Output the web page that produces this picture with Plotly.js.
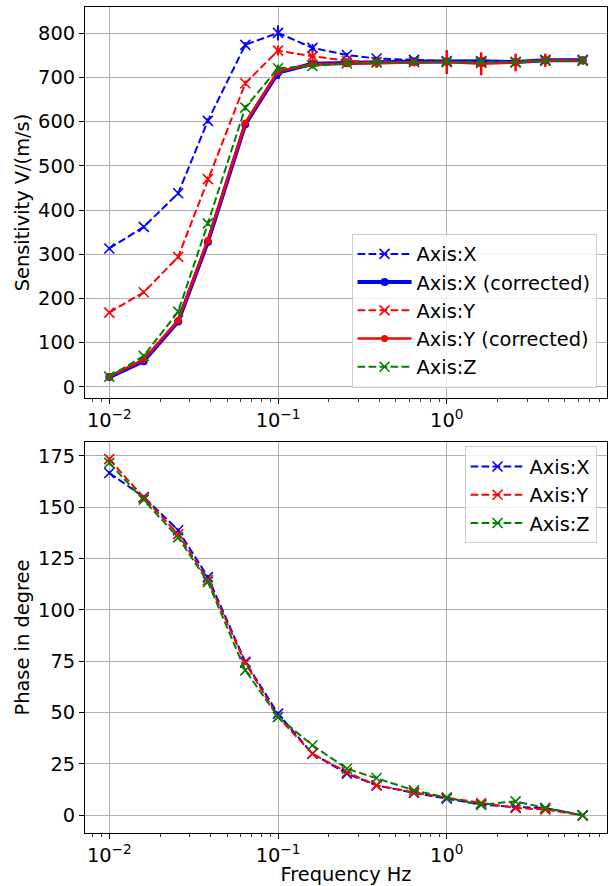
<!DOCTYPE html>
<html>
<head>
<meta charset="utf-8">
<script src="https://cdn.plot.ly/plotly-3.0.1.min.js"></script>
<style>html,body{margin:0;padding:0;background:#fff}</style>
</head>
<body>
<div id="chart" style="width:612px;height:886px"></div>
<script>
// Frequencies (Hz)
const freq = [0.01, 0.016, 0.0256, 0.0384, 0.064, 0.1, 0.16, 0.256, 0.384, 0.64, 1.0, 1.6, 2.56, 3.84, 6.4];

// Sensitivity V/(m/s)
const sensX      = [313, 362, 438, 602, 774, 801, 767, 751, 743, 740, 737, 737, 735, 740, 740];
const sensXErr   = [3, 4, 5, 6, 6, 17, 9, 5, 4, 3, 4, 4, 3, 3, 3];
const sensXc     = [22, 58, 148, 328, 594, 711, 731, 733, 734, 736, 736, 737, 735, 739, 739];
const sensXcErr  = [3, 4, 5, 6, 6, 14, 6, 4, 3, 3, 4, 4, 3, 3, 3];
const sensY      = [168, 214, 294, 470, 687, 761, 748, 738, 735, 735, 735, 733, 734, 738, 738];
const sensYErr   = [3, 4, 5, 6, 6, 11, 13, 6, 5, 4, 8, 8, 6, 5, 4];
const sensYc     = [23, 62, 150, 331, 597, 714, 730, 731, 733, 734, 735, 731, 734, 739, 738];
const sensYcErr  = [3, 4, 5, 6, 6, 8, 8, 7, 11, 9, 27, 26, 20, 15, 9];
const sensZ      = [23, 70, 170, 370, 632, 721, 726, 732, 734, 735, 735, 735, 735, 738, 738];
const sensZErr   = [3, 4, 5, 6, 6, 8, 6, 4, 3, 3, 4, 4, 3, 3, 3];

// Phase in degree
const phaseX = [166.7, 155.0, 138.8, 116.0, 74.7, 49.5, 30.0, 20.3, 14.6, 10.9, 8.1, 5.2, 4.0, 3.6, 0.0];
const phaseY = [173.4, 154.7, 136.9, 114.5, 74.2, 47.9, 30.0, 21.0, 14.6, 11.2, 8.6, 6.0, 3.6, 2.8, 0.0];
const phaseZ = [171.6, 153.7, 135.3, 113.6, 70.6, 47.9, 34.1, 22.7, 18.2, 12.2, 8.6, 5.2, 6.8, 3.6, 0.0];
const phaseErr = [0.8, 0.8, 0.8, 0.8, 0.8, 0.8, 0.6, 0.6, 0.6, 0.6, 0.6, 0.6, 0.6, 0.6, 0.6];

// Tick labels
const xTickVals = [0.01, 0.1, 1];
const xTickText = ['10<sup>\u22122</sup>', '10<sup>\u22121</sup>', '10<sup>0</sup>'];
const sensTicks = [0, 100, 200, 300, 400, 500, 600, 700, 800];
const phaseTicks = [0, 25, 50, 75, 100, 125, 150, 175];

const FONT = 'DejaVu Sans, Liberation Sans, sans-serif';
const FS = 19.4;
const BLUE = '#0000ff', RED = '#ff0000', GREEN = '#008000';

const minorVals = [];
for (let e = -3; e <= 0; e++) for (let d = 2; d <= 9; d++) minorVals.push(d * Math.pow(10, e));

function dashed(name, x, y, err, color, xa, ya, legend, showleg) {
  return {
    type: 'scatter', mode: 'lines+markers', name: name, x: x, y: y,
    xaxis: xa, yaxis: ya, legend: legend, showlegend: showleg,
    line: {color: color, width: 2, dash: '7.7px,3.3px'},
    marker: {symbol: 'x-thin-open', size: 10, color: color, line: {color: color, width: 1.6}},
    error_y: {type: 'data', array: err, visible: true, color: color, thickness: 2, width: 0}
  };
}
function solid(name, x, y, err, color, lw, ms, xa, ya, legend) {
  return {
    type: 'scatter', mode: 'lines+markers', name: name, x: x, y: y,
    xaxis: xa, yaxis: ya, legend: legend,
    line: {color: color, width: lw},
    marker: {symbol: 'circle', size: ms, color: color},
    error_y: {type: 'data', array: err, visible: true, color: color, thickness: lw, width: 0}
  };
}

const traces = [
  dashed('Axis:X', freq, sensX, sensXErr, BLUE, 'x', 'y', 'legend', true),
  solid('Axis:X (corrected)', freq, sensXc, sensXcErr, BLUE, 4, 8, 'x', 'y', 'legend'),
  dashed('Axis:Y', freq, sensY, sensYErr, RED, 'x', 'y', 'legend', true),
  solid('Axis:Y (corrected)', freq, sensYc, sensYcErr, RED, 2.5, 7, 'x', 'y', 'legend'),
  dashed('Axis:Z', freq, sensZ, sensZErr, GREEN, 'x', 'y', 'legend', true),
  dashed('Axis:X', freq, phaseX, phaseErr, BLUE, 'x2', 'y2', 'legend2', true),
  dashed('Axis:Y', freq, phaseY, phaseErr, RED, 'x2', 'y2', 'legend2', true),
  dashed('Axis:Z', freq, phaseZ, phaseErr, GREEN, 'x2', 'y2', 'legend2', true)
];

function xAxis(anchor, withTitle) {
  const ax = {
    type: 'log', range: [-2.144, 0.95], anchor: anchor,
    showline: true, mirror: true, linecolor: '#000', linewidth: 1,
    ticks: 'outside', ticklen: 5, tickwidth: 1, tickcolor: '#000',
    showgrid: true, gridcolor: '#b0b0b0', gridwidth: 1,
    tickvals: xTickVals, ticktext: xTickText,
    tickfont: {family: FONT, size: FS, color: '#000'},
    minor: {tickvals: minorVals, ticks: 'outside', ticklen: 3, tickwidth: 0.8, tickcolor: '#000', showgrid: false},
    zeroline: false
  };
  if (withTitle) ax.title = {text: 'Frequency Hz', font: {family: FONT, size: FS, color: '#000'}, standoff: 2};
  return ax;
}
function yAxis(anchor, domain, range, ticks, title) {
  return {
    anchor: anchor, domain: domain, range: range,
    showline: true, mirror: true, linecolor: '#000', linewidth: 1,
    ticks: 'outside', ticklen: 5, tickwidth: 1, tickcolor: '#000',
    showgrid: true, gridcolor: '#b0b0b0', gridwidth: 1,
    tickvals: ticks, tickfont: {family: FONT, size: FS, color: '#000'},
    zeroline: false,
    title: {text: title, font: {family: FONT, size: FS, color: '#000'}, standoff: 3}
  };
}

const legendStyle = {
  font: {family: FONT, size: FS, color: '#000'},
  bgcolor: 'rgba(255,255,255,0.8)', bordercolor: '#cccccc', borderwidth: 1,
  xanchor: 'right', itemwidth: 54, tracegroupgap: 0
};

const layout = {
  width: 612, height: 886,
  margin: {l: 85, r: 5, t: 7, b: 53},
  paper_bgcolor: '#fff', plot_bgcolor: '#fff',
  font: {family: FONT, size: FS, color: '#000'},
  xaxis: xAxis('y', false),
  xaxis2: xAxis('y2', true),
  yaxis: yAxis('x', [0.5265, 1], [-25.6, 859.6], sensTicks, 'Sensitivity V/(m/s)'),
  yaxis2: yAxis('x2', [0, 0.4732], [-8.6, 181.7], phaseTicks, 'Phase in degree'),
  legend: Object.assign({}, legendStyle, {x: 0.98, y: 0.539, yanchor: 'bottom'}),
  legend2: Object.assign({}, legendStyle, {x: 0.98, y: 0.468, yanchor: 'top'}),
  showlegend: true
};

Plotly.newPlot('chart', traces, layout, {staticPlot: true, displayModeBar: false});
</script>
</body>
</html>
